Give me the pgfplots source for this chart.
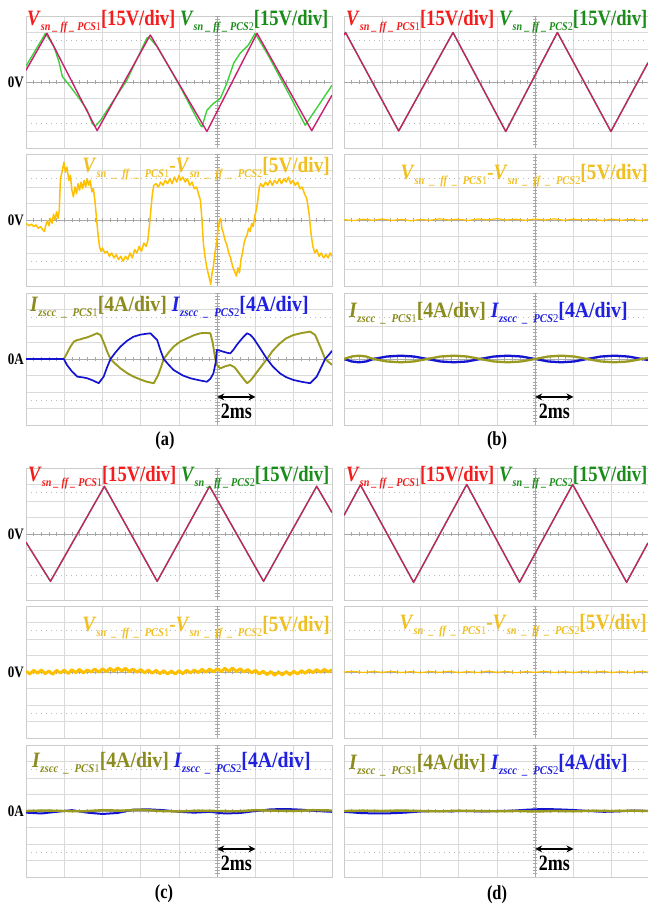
\documentclass[border=0pt]{standalone}
\usepackage{fontspec}
\setmainfont{Liberation Serif}[FakeStretch=0.82]
\usepackage{graphicx}
\usepackage{pgfplots}
\pgfplotsset{compat=1.18}
\usetikzlibrary{arrows.meta}
\definecolor{labred}{HTML}{F41C1C}
\definecolor{labgreen}{HTML}{1A8C1A}
\definecolor{labyel}{HTML}{F0C020}
\definecolor{labolv}{HTML}{8C8C1E}
\definecolor{labblu}{HTML}{2020E0}
\definecolor{magtr}{HTML}{C8206E}
\definecolor{grntr}{HTML}{3CD23C}
\definecolor{yeltr}{HTML}{FFC000}
\definecolor{olvtr}{HTML}{9A9A20}
\definecolor{blutr}{HTML}{1414D0}
\definecolor{gridcol}{HTML}{DADADA}
\definecolor{centcol}{HTML}{A8A8A8}
\definecolor{bordercol}{HTML}{CCCCCC}
\definecolor{dotcol}{HTML}{BBBBBB}
\pgfplotsset{
  scopebase/.style={
    scale only axis, height=132bp, ymin=-4, ymax=4, xmin=-5, anchor=north west,
    axis line style={draw=bordercol, line width=0.9pt},
    xtick={-5,-4,-3,-2,-1,1,2,3}, ytick={-4,-3,-2,-1,1,2,3,4},
    minor ytick={-2.5,2.5},
    grid=both,
    major grid style={draw=gridcol, line width=0.7pt},
    minor grid style={draw=dotcol, line width=0.8pt, dash pattern=on 1pt off 4pt},
    tick style={draw=none},
    xticklabels={}, yticklabels={},
    extra x ticks={0}, extra y ticks={0},
    extra x tick labels={}, extra y tick labels={},
    extra tick style={grid=major, major grid style={draw=centcol, line width=0.8pt}, tick style={draw=none}},
  },
  lp/.style={scopebase, width=306bp, xmax=3},
  rp/.style={scopebase, width=304bp, xmax=2.95},
  magl/.style={color=magtr, line width=1.4pt, line join=round},
  grnl/.style={color=grntr, line width=1.4pt, line join=round},
  yell/.style={color=yeltr, line width=1.2pt, line join=round},
  olvl/.style={color=olvtr, line width=1.9pt, line join=round},
  blul/.style={color=blutr, line width=1.7pt, line join=round},
}
\newcommand{\deco}{%
  \pgfplotsinvokeforeach{-4.8,-4.6,...,2.9}{\draw[centcol, line width=0.6pt] (axis cs:##1,-0.15) -- (axis cs:##1,0.15);}%
  \pgfplotsinvokeforeach{-3.8,-3.6,...,3.9}{\draw[centcol, line width=0.6pt] (axis cs:-0.06,##1) -- (axis cs:0.06,##1);}%
}
\newcommand{\lf}{\fontsize{22}{24}\selectfont\bfseries}
\newcommand{\bsub}[2]{\raisebox{-4.5bp}{\fontsize{12}{12}\selectfont\bfseries\itshape #1\mdseries\upshape #2}}
\newcommand{\topl}{\scalebox{1.035}[1]{\lf\color{labred}\textit{V}\bsub{sn \_ ff \_ PCS}{1}[15V/div] \color{labgreen}\textit{V}\bsub{sn \_ ff \_ PCS}{2}[15V/div]}}
\newcommand{\midl}{\scalebox{1.07}[1]{\lf\color{labyel}\textit{V}\bsub{sn\ \ \_\ \ ff\ \ \_\ \ PCS}{1}-\textit{V}\bsub{sn\ \ \_\ \ ff\ \ \_\ \ PCS}{2}[5V/div]}}
\newcommand{\botl}{\scalebox{1.1}[1]{\lf\color{labolv}\textit{I}\bsub{zscc\ \ \_\ \ PCS}{1}[4A/div] \color{labblu}\textit{I}\bsub{zscc\ \ \_\ \ PCS}{2}[4A/div]}}
\newcommand{\twoms}{\draw[{Stealth[length=7bp,width=7bp]}-{Stealth[length=7bp,width=7bp]}, line width=1.3pt] (axis cs:0,-2.3) -- (axis cs:1,-2.3);
  \node[inner sep=0] at (axis cs:0.5,-3.2) {\lf 2ms};}
\newcommand{\pl}[1]{\fontsize{20}{22}\selectfont\bfseries #1}
\begin{document}
\begin{tikzpicture}
\useasboundingbox (0,0) rectangle (648bp,906bp);
% ================= (a) =================
\begin{axis}[lp, at={(26bp,890bp)}]
\deco
\addplot[grnl] coordinates {(-5,0.96) (-4.49,2.95) (-4.27,2.15) (-4.14,1.24) (-4.05,0.33) (-3.84,-0.28) (-3.58,-1.09) (-3.40,-1.70) (-3.27,-2.5) (-3.19,-2.68) (-3.05,-2.32) (-2.36,0.12) (-1.84,2.66) (-1.79,2.72) (-1.57,2.15) (-0.97,-0.28) (-0.44,-2.62) (-0.40,-2.72) (-0.27,-1.71) (-0.10,-1.30) (0.08,-1.0) (0.25,-0.08) (0.43,1.14) (0.60,1.75) (0.82,2.26) (0.99,2.95) (1.30,1.75) (1.82,-0.49) (2.30,-2.62) (3.0,-0.2)};
\addplot[magl] coordinates {(-5,0.71) (-4.45,2.95) (-3.14,-2.95) (-1.75,2.85) (-0.27,-3.0) (1.04,2.95) (2.47,-2.95) (3.0,-0.8)};
\end{axis}
\begin{axis}[lp, at={(26bp,752bp)}]
\deco
\addplot[yell, line width=1.5pt] coordinates {(-5,-0.2) (-4.92,-0.35) (-4.86,-0.25) (-4.8,-0.4) (-4.74,-0.3) (-4.68,-0.5) (-4.62,-0.4) (-4.56,-0.6) (-4.52,-0.7) (-4.48,-0.3) (-4.44,-0.05) (-4.40,-0.35) (-4.36,0.1) (-4.32,-0.2) (-4.28,0.35) (-4.24,0.0) (-4.2,0.5) (-4.16,0.1) (-4.13,0.6) (-4.1,2.5) (-4.05,3.0) (-4.01,3.5) (-3.97,2.9) (-3.93,3.2) (-3.88,2.4) (-3.84,2.7) (-3.8,1.8) (-3.76,1.4) (-3.72,2.0) (-3.68,1.6) (-3.64,2.2) (-3.6,1.8) (-3.56,2.3) (-3.52,1.9) (-3.48,2.4) (-3.44,2.0) (-3.4,2.5) (-3.36,2.1) (-3.32,2.4) (-3.28,1.7) (-3.24,1.9) (-3.2,1.2) (-3.16,0.2) (-3.12,-0.8) (-3.08,-1.6) (-3.04,-1.9) (-3.0,-1.7) (-2.94,-2.0) (-2.88,-1.9) (-2.82,-2.2) (-2.76,-2.0) (-2.7,-2.3) (-2.64,-2.1) (-2.58,-2.4) (-2.52,-2.2) (-2.46,-2.5) (-2.40,-2.2) (-2.34,-2.4) (-2.28,-2.0) (-2.22,-2.3) (-2.16,-1.8) (-2.10,-2.0) (-2.04,-1.6) (-1.98,-1.9) (-1.92,-1.4) (-1.86,-1.6) (-1.82,-1.3) (-1.78,-0.5) (-1.74,0.5) (-1.70,1.5) (-1.66,2.1) (-1.6,2.2) (-1.54,2.0) (-1.48,2.3) (-1.42,2.1) (-1.36,2.4) (-1.3,2.2) (-1.24,2.5) (-1.18,2.2) (-1.12,2.6) (-1.06,2.3) (-1.0,2.7) (-0.96,2.4) (-0.9,2.6) (-0.84,2.3) (-0.78,2.5) (-0.72,2.1) (-0.66,2.3) (-0.6,1.9) (-0.54,2.0) (-0.48,1.5) (-0.44,1.2) (-0.40,0.0) (-0.36,-1.5) (-0.32,-2.2) (-0.28,-2.8) (-0.24,-3.2) (-0.20,-3.6) (-0.17,-3.9) (-0.14,-3.3) (-0.10,-2.8) (-0.06,-2.0) (-0.02,-1.4) (0.02,-0.6) (0.06,0.0) (0.09,0.1) (0.12,-0.5) (0.16,-0.8) (0.2,-1.2) (0.25,-1.5) (0.3,-2.0) (0.35,-2.3) (0.4,-2.8) (0.45,-3.1) (0.5,-3.4) (0.54,-2.9) (0.58,-3.2) (0.62,-2.4) (0.66,-2.0) (0.7,-1.4) (0.74,-1.1) (0.78,-0.9) (0.82,-0.5) (0.86,-0.7) (0.9,-0.2) (0.94,-0.4) (0.98,0.2) (1.02,0.6) (1.06,1.2) (1.1,2.0) (1.14,2.2) (1.2,2.0) (1.26,2.3) (1.32,2.1) (1.38,2.4) (1.44,2.1) (1.5,2.4) (1.56,2.2) (1.62,2.5) (1.68,2.2) (1.74,2.5) (1.8,2.3) (1.86,2.6) (1.92,2.2) (1.98,2.4) (2.04,2.1) (2.1,2.3) (2.16,1.9) (2.22,2.0) (2.28,1.6) (2.34,1.3) (2.4,0.4) (2.45,-0.8) (2.5,-1.6) (2.55,-2.0) (2.6,-1.8) (2.66,-2.2) (2.72,-2.0) (2.78,-2.3) (2.84,-2.1) (2.9,-2.3) (2.95,-2.0) (3.0,-2.2)};
\end{axis}
\begin{axis}[lp, at={(26bp,613bp)}]
\deco
\addplot[olvl] coordinates {(-5,0) (-4.01,0) (-3.93,0.34) (-3.85,0.7) (-3.75,1.05) (-3.66,1.15) (-3.58,1.19) (-3.5,1.25) (-3.4,1.31) (-3.3,1.4) (-3.2,1.5) (-3.14,1.56) (-3.05,1.45) (-2.95,0.9) (-2.87,0.4) (-2.79,0) (-2.66,-0.3) (-2.53,-0.57) (-2.36,-0.85) (-2.19,-1.07) (-2.0,-1.25) (-1.84,-1.38) (-1.66,-1.47) (-1.55,-1.0) (-1.47,-0.5) (-1.40,0) (-1.27,0.4) (-1.14,0.75) (-0.97,1.05) (-0.79,1.25) (-0.6,1.45) (-0.44,1.56) (-0.3,1.58) (-0.18,1.56) (-0.12,1.0) (-0.05,0) (0.0,-0.4) (0.08,-0.57) (0.2,-0.45) (0.34,-0.36) (0.45,-0.5) (0.51,-0.67) (0.65,-1.1) (0.78,-1.47) (0.87,-1.3) (0.95,-1.07) (1.1,-0.6) (1.30,0) (1.45,0.5) (1.64,0.95) (1.8,1.25) (1.99,1.45) (2.2,1.57) (2.43,1.66) (2.56,1.45) (2.7,0.7) (2.82,0) (2.95,-0.26) (3.0,-0.35)};
\addplot[blul] coordinates {(-5,0) (-4.01,0) (-3.93,-0.36) (-3.8,-0.75) (-3.66,-1.07) (-3.5,-1.12) (-3.40,-1.17) (-3.25,-1.3) (-3.10,-1.47) (-2.97,-1.07) (-2.88,-0.5) (-2.79,0) (-2.66,0.4) (-2.53,0.75) (-2.36,1.1) (-2.19,1.35) (-2.0,1.48) (-1.75,1.56) (-1.57,1.15) (-1.48,0.5) (-1.40,0) (-1.27,-0.35) (-1.14,-0.67) (-0.9,-1.0) (-0.70,-1.17) (-0.45,-1.3) (-0.27,-1.38) (-0.18,-1.2) (-0.10,-0.87) (-0.04,-0.2) (-0.01,0.55) (0.08,0.5) (0.16,0.44) (0.25,0.38) (0.34,0.34) (0.42,0.55) (0.51,0.85) (0.65,1.25) (0.78,1.56) (0.87,1.45) (0.95,1.25) (1.12,0.65) (1.30,0) (1.45,-0.45) (1.64,-0.87) (1.8,-1.1) (1.99,-1.27) (2.2,-1.38) (2.43,-1.47) (2.60,-1.07) (2.72,-0.5) (2.82,0) (2.95,0.34) (3.0,0.5)};
\twoms
\end{axis}
% ================= (b) =================
\begin{axis}[rp, at={(344bp,890bp)}]
\deco
\addplot[grnl] coordinates {(-5,2.85) (-4.96,3.0) (-3.57,-2.97) (-2.15,3.0) (-0.77,-3.0) (0.58,3.0) (1.98,-3.0) (2.95,1.17)};
\addplot[magl] coordinates {(-5,2.85) (-4.96,3.0) (-3.57,-2.97) (-2.15,3.0) (-0.77,-3.0) (0.58,3.0) (1.98,-3.0) (2.95,1.17)};
\end{axis}
\begin{axis}[rp, at={(344bp,752bp)}]
\deco
\addplot[yell] coordinates {(-5,0.02) (-4.75,-0.04) (-4.5,0.05) (-4.25,-0.02) (-4,0.06) (-3.75,-0.03) (-3.5,0.04) (-3.25,-0.05) (-3,0.03) (-2.75,-0.02) (-2.5,0.07) (-2.25,0.0) (-2,0.05) (-1.75,-0.03) (-1.5,0.06) (-1.25,0.01) (-1,0.08) (-0.75,0.0) (-0.5,0.05) (-0.25,-0.02) (0,0.06) (0.25,0.0) (0.5,0.07) (0.75,-0.02) (1,0.05) (1.25,0.0) (1.5,0.04) (1.75,-0.03) (2,0.05) (2.25,-0.02) (2.5,0.04) (2.75,-0.03) (2.95,0.03)};
\end{axis}
\begin{axis}[rp, at={(344bp,613bp)}]
\deco
\addplot[blul, line width=2.3pt] coordinates {(-5,0) (-4.80,-0.15) (-4.61,-0.2) (-4.42,-0.15) (-4.23,0) (-3.88,0.15) (-3.52,0.2) (-3.17,0.15) (-2.82,0) (-2.48,-0.15) (-2.13,-0.2) (-1.78,-0.15) (-1.44,0) (-1.08,0.15) (-0.72,0.2) (-0.36,0.15) (0,0) (0.34,-0.15) (0.68,-0.2) (1.02,-0.15) (1.36,0) (1.72,0.15) (2.07,0.2) (2.43,0.15) (2.79,0) (2.95,-0.06)};
\addplot[olvl, line width=2.3pt] coordinates {(-5,0) (-4.80,0.15) (-4.61,0.2) (-4.42,0.15) (-4.23,0) (-3.88,-0.15) (-3.52,-0.2) (-3.17,-0.15) (-2.82,0) (-2.48,0.15) (-2.13,0.2) (-1.78,0.15) (-1.44,0) (-1.08,-0.15) (-0.72,-0.2) (-0.36,-0.15) (0,0) (0.34,0.15) (0.68,0.2) (1.02,0.15) (1.36,0) (1.72,-0.15) (2.07,-0.2) (2.43,-0.15) (2.79,0) (2.95,0.06)};
\twoms
\end{axis}
% ================= (c) =================
\begin{axis}[lp, at={(26bp,438bp)}]
\deco
\addplot[grnl] coordinates {(-5,-0.5) (-4.36,-2.87) (-2.95,2.89) (-1.57,-2.87) (-0.2,2.89) (1.21,-2.87) (2.60,2.89) (3.0,1.3)};
\addplot[magl] coordinates {(-5,-0.5) (-4.36,-2.87) (-2.95,2.89) (-1.57,-2.87) (-0.2,2.89) (1.21,-2.87) (2.60,2.89) (3.0,1.3)};
\end{axis}
\begin{axis}[lp, at={(26bp,300bp)}]
\deco
\addplot[yell, line width=3pt] coordinates {(-5.0,0.05) (-4.9,-0.12) (-4.8,0.1) (-4.7,-0.08) (-4.6,0.12) (-4.5,-0.1) (-4.4,0.06) (-4.3,-0.14) (-4.2,0.1) (-4.1,-0.06) (-4.0,0.12) (-3.9,-0.1) (-3.8,0.14) (-3.7,-0.04) (-3.6,0.16) (-3.5,-0.06) (-3.4,0.12) (-3.3,0.0) (-3.2,0.18) (-3.1,-0.02) (-3.0,0.2) (-2.9,0.02) (-2.8,0.22) (-2.7,0.04) (-2.6,0.25) (-2.5,0.05) (-2.4,0.22) (-2.3,0.02) (-2.2,0.18) (-2.1,-0.02) (-2.0,0.15) (-1.9,-0.05) (-1.8,0.12) (-1.7,-0.08) (-1.6,0.1) (-1.5,-0.1) (-1.4,0.08) (-1.3,-0.12) (-1.2,0.06) (-1.1,-0.12) (-1.0,0.08) (-0.9,-0.1) (-0.8,0.1) (-0.7,-0.06) (-0.6,0.12) (-0.5,-0.04) (-0.4,0.16) (-0.3,-0.02) (-0.2,0.18) (-0.1,0.0) (0.0,0.2) (0.1,0.02) (0.2,0.22) (0.3,0.04) (0.4,0.24) (0.5,0.02) (0.6,0.2) (0.7,0.0) (0.8,0.15) (0.9,-0.05) (1.0,0.1) (1.1,-0.12) (1.2,0.05) (1.3,-0.16) (1.4,0.02) (1.5,-0.2) (1.6,0.0) (1.7,-0.18) (1.8,0.02) (1.9,-0.16) (2.0,0.04) (2.1,-0.12) (2.2,0.08) (2.3,-0.08) (2.4,0.12) (2.5,-0.04) (2.6,0.14) (2.7,-0.02) (2.8,0.16) (2.9,0.0) (3.0,0.14)};
\end{axis}
\begin{axis}[lp, at={(26bp,161bp)}]
\deco
\addplot[blul, line width=2pt] coordinates {(-5,-0.1) (-4.6,-0.15) (-4.2,-0.05) (-3.8,0.05) (-3.4,-0.1) (-3.0,-0.18) (-2.6,-0.12) (-2.2,0.08) (-1.8,0.1) (-1.4,0.05) (-1.0,-0.05) (-0.6,-0.1) (-0.2,-0.05) (0.2,-0.15) (0.6,-0.12) (1.0,0.0) (1.4,0.1) (1.8,0.12) (2.2,0.08) (2.6,0.0) (3.0,-0.05)};
\addplot[olvl, line width=2.4pt] coordinates {(-5,0.0) (-4.5,0.03) (-4,0.0) (-3.5,-0.02) (-3,0.05) (-2.5,0.02) (-2,0.08) (-1.5,0.0) (-1,-0.03) (-0.5,0.02) (0,0.0) (0.5,-0.02) (1,0.05) (1.5,0.02) (2,0.0) (2.5,0.05) (3,0.03)};
\twoms
\end{axis}
% ================= (d) =================
\begin{axis}[rp, at={(344bp,438bp)}]
\deco
\addplot[grnl] coordinates {(-5,1.13) (-4.57,2.97) (-3.18,-2.93) (-1.79,3.0) (-0.41,-2.93) (0.98,3.0) (2.39,-2.93) (2.95,-0.54)};
\addplot[magl] coordinates {(-5,1.13) (-4.57,2.97) (-3.18,-2.93) (-1.79,3.0) (-0.41,-2.93) (0.98,3.0) (2.39,-2.93) (2.95,-0.54)};
\end{axis}
\begin{axis}[rp, at={(344bp,300bp)}]
\deco
\addplot[yell] coordinates {(-5,0.0) (-4.75,0.04) (-4.5,-0.03) (-4.25,0.03) (-4,-0.02) (-3.75,0.04) (-3.5,-0.03) (-3.25,0.02) (-3,-0.04) (-2.75,0.03) (-2.5,-0.02) (-2.25,0.04) (-2,-0.03) (-1.75,0.02) (-1.5,-0.03) (-1.25,0.05) (-1,-0.02) (-0.75,0.03) (-0.5,-0.04) (-0.25,0.02) (0,-0.02) (0.25,0.04) (0.5,-0.03) (0.75,0.02) (1,-0.03) (1.25,0.03) (1.5,-0.02) (1.75,0.04) (2,-0.03) (2.25,0.02) (2.5,-0.03) (2.75,0.03) (2.95,0.0)};
\end{axis}
\begin{axis}[rp, at={(344bp,161bp)}]
\deco
\addplot[blul, line width=2pt] coordinates {(-5,-0.05) (-4.6,-0.12) (-4.2,-0.15) (-3.8,-0.14) (-3.4,-0.1) (-3.0,-0.03) (-2.6,0.0) (-2.2,-0.02) (-1.8,0.0) (-1.4,-0.03) (-1.0,0.0) (-0.6,0.02) (-0.2,0.08) (0.2,0.12) (0.6,0.1) (1.0,0.06) (1.4,0.0) (1.8,-0.05) (2.2,-0.02) (2.6,0.03) (2.95,0.0)};
\addplot[olvl, line width=2.4pt] coordinates {(-5,0.0) (-4.5,0.02) (-4,0.0) (-3.5,0.03) (-3,0.0) (-2.5,-0.02) (-2,0.02) (-1.5,0.0) (-1,-0.02) (-0.5,0.0) (0,-0.03) (0.5,0.0) (1,-0.02) (1.5,0.02) (2,0.0) (2.5,0.02) (2.95,0.0)};
\twoms
\end{axis}
% ================= labels =================
\node[anchor=base west, inner sep=0] at (27bp,880bp) {\topl};
\node[anchor=base east, inner sep=0] at (330bp,733bp) {\midl};
\node[anchor=base west, inner sep=0] at (30bp,594bp) {\botl};
\node[anchor=base west, inner sep=0] at (346bp,880bp) {\topl};
\node[anchor=base east, inner sep=0] at (648bp,726bp) {\midl};
\node[anchor=base west, inner sep=0] at (349bp,588bp) {\botl};
\node[anchor=base west, inner sep=0] at (28bp,424bp) {\topl};
\node[anchor=base east, inner sep=0] at (330bp,274bp) {\midl};
\node[anchor=base west, inner sep=0] at (32bp,138bp) {\botl};
\node[anchor=base west, inner sep=0] at (346bp,424bp) {\topl};
\node[anchor=base east, inner sep=0] at (647bp,276bp) {\midl};
\node[anchor=base west, inner sep=0] at (349bp,136bp) {\botl};
\node[anchor=east, inner sep=0] at (24bp,824bp) {\fontsize{16}{18}\selectfont\bfseries 0V};
\node[anchor=east, inner sep=0] at (24bp,686bp) {\fontsize{16}{18}\selectfont\bfseries 0V};
\node[anchor=east, inner sep=0] at (24bp,547bp) {\fontsize{16}{18}\selectfont\bfseries 0A};
\node[anchor=east, inner sep=0] at (24bp,372bp) {\fontsize{16}{18}\selectfont\bfseries 0V};
\node[anchor=east, inner sep=0] at (24bp,234bp) {\fontsize{16}{18}\selectfont\bfseries 0V};
\node[anchor=east, inner sep=0] at (24bp,95bp) {\fontsize{16}{18}\selectfont\bfseries 0A};
\node[inner sep=0] at (165bp,465bp) {\pl{(a)}};
\node[inner sep=0] at (497bp,465bp) {\pl{(b)}};
\node[inner sep=0] at (164bp,12bp) {\pl{(c)}};
\node[inner sep=0] at (497bp,11bp) {\pl{(d)}};
\end{tikzpicture}
\end{document}
